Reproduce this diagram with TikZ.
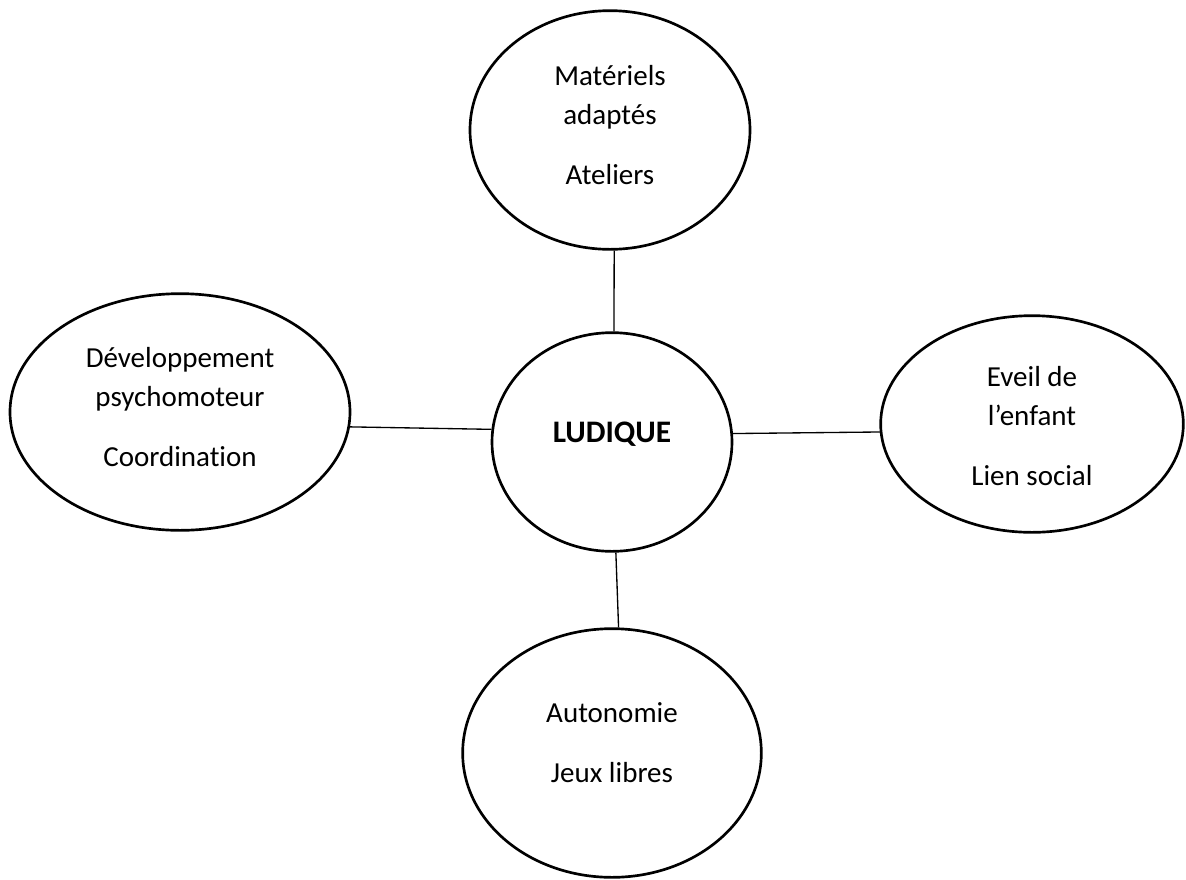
\documentclass[tikz,border=0pt]{standalone}
\usepackage{fontspec}
\setmainfont{Carlito}[Ligatures={NoCommon}]
\usetikzlibrary{shapes.geometric}
\begin{document}
\begin{tikzpicture}[x=0.75pt,y=-0.75pt,
  bubble/.style={draw=black, line width=2pt, ellipse, inner sep=0pt, align=center,
    font=\fontsize{21.75}{29.25}\selectfont},
  link/.style={draw=black, line width=1pt}]
\useasboundingbox (0,0) rectangle (1186,879);
\node[bubble, minimum width=210pt, minimum height=179pt] (top) at (610,130)
  {\strut Matériels\\ \strut adaptés\\[15.75pt] \strut Ateliers\rule[-13.7pt]{0pt}{0pt}};
\node[bubble, minimum width=255pt, minimum height=177.5pt] (left) at (180,412)
  {\strut Développement\\ \strut psychomoteur\\[15.75pt] \strut Coordination\rule[-13.7pt]{0pt}{0pt}};
\node[bubble, minimum width=180pt, minimum height=164pt,
  font=\fontsize{23.5}{29.25}\selectfont\bfseries] (ctr) at (612,442)
  {\strut LUDIQUE\rule[-19.3pt]{0pt}{0pt}};
\node[bubble, minimum width=227pt, minimum height=162.5pt] (right) at (1032,424)
  {\rule{0pt}{26.8pt}\strut Eveil de\\ \strut l’enfant\\[15.75pt] \strut Lien social};
\node[bubble, minimum width=224pt, minimum height=186.5pt] (bot) at (612,753)
  {\strut Autonomie\\[15.75pt] \strut Jeux libres\rule[-20.8pt]{0pt}{0pt}};
\draw[link] (top.-88) -- (ctr.89);
\draw[link] (left.-5) -- (ctr.174);
\draw[link] (ctr.4) -- (right.183);
\draw[link] (ctr.-88) -- (bot.87);
\end{tikzpicture}
\end{document}
